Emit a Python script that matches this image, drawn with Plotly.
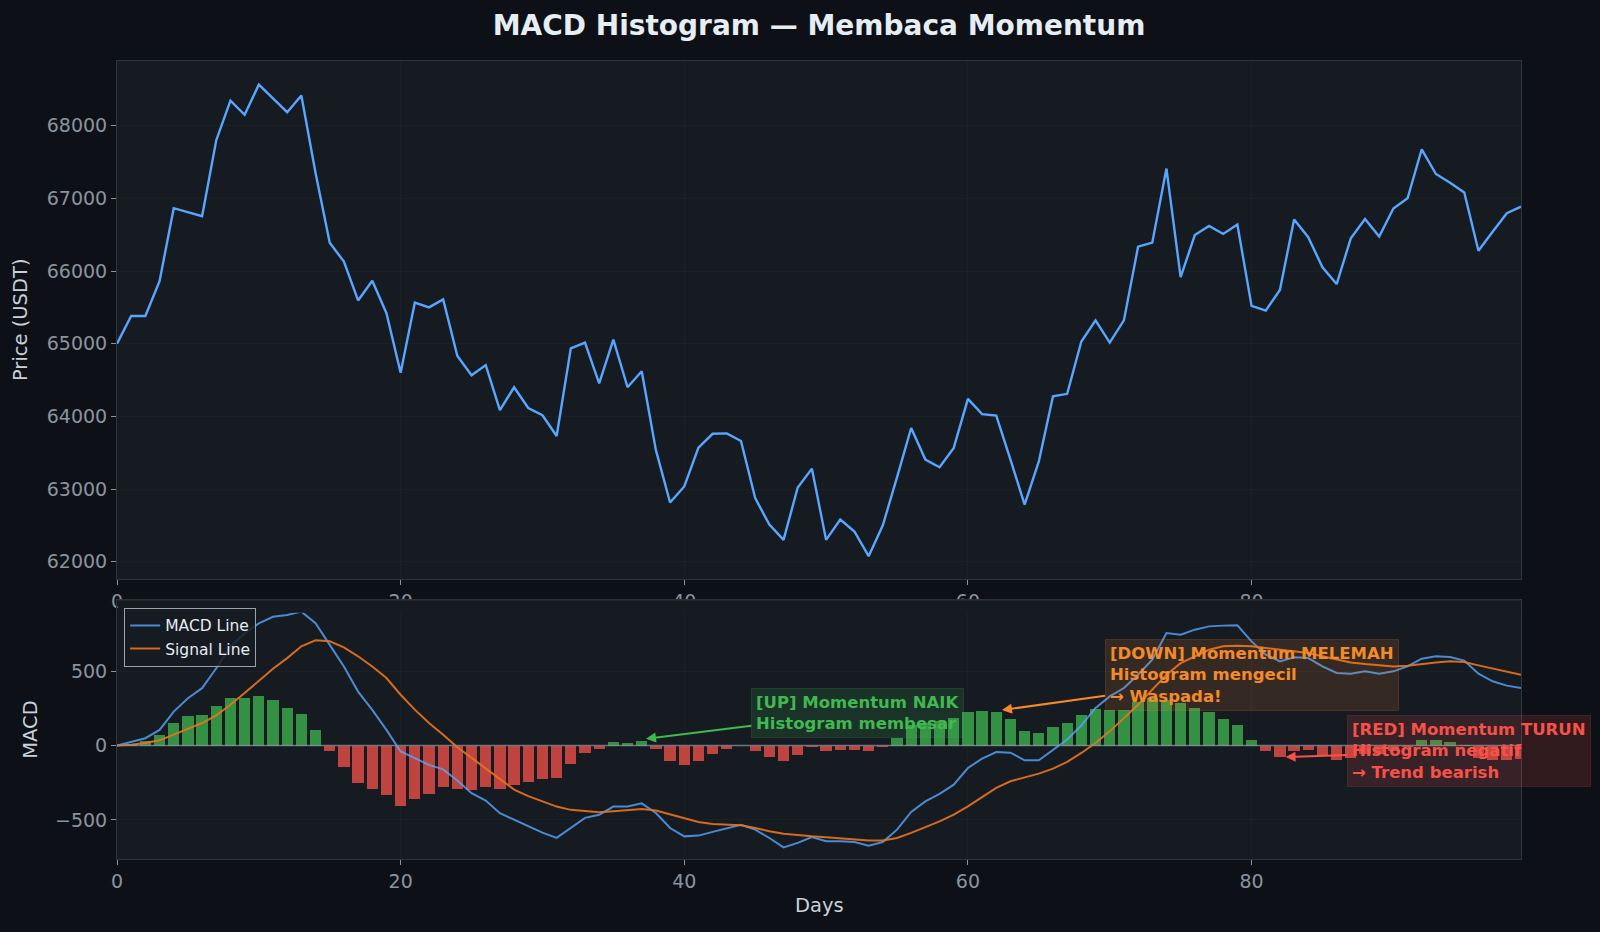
import plotly.graph_objects as go

# ---------------- data ----------------
days = list(range(100))

price = [65000, 65380, 65380, 65860, 66865, 66810, 66755, 67800, 68345, 68150,
         68565, 68375, 68185, 68415, 67350, 66390, 66130, 65595, 65865, 65420,
         64600, 65565, 65500, 65610, 64830, 64565, 64705, 64085, 64400, 64115,
         64015, 63730, 64935, 65015, 64455, 65055, 64400, 64620, 63535, 62815,
         63035, 63570, 63760, 63765, 63660, 62875, 62510, 62300, 63020, 63280,
         62300, 62580, 62415, 62075, 62500, 63160, 63840, 63405, 63300, 63565,
         64240, 64030, 64010, 63405, 62785, 63380, 64275, 64310, 65030, 65320,
         65015, 65320, 66335, 66390, 67410, 65915, 66495, 66620, 66510, 66640,
         65520, 65455, 65740, 66710, 66465, 66050, 65820, 66450, 66715, 66475,
         66860, 67000, 67675, 67335, 67215, 67080, 66280, 66540, 66795, 66885]

macd = [0, 27, 49, 105, 228, 318, 385, 519, 664, 754,
        820, 864, 876, 899, 821, 676, 531, 362, 239, 105,
        -40, -85, -130, -160, -235, -320, -370, -455, -498, -543,
        -585, -620, -553, -486, -465, -410, -410, -388, -453, -554,
        -610, -605, -580, -554, -532, -565, -621, -684, -654, -614,
        -643, -643, -648, -672, -648, -565, -446, -375, -325, -263,
        -151, -88, -44, -48, -99, -99, -27, 40, 135, 252,
        330, 386, 475, 576, 755, 744, 778, 800, 805, 807,
        699, 610, 565, 592, 587, 531, 487, 482, 498, 482,
        498, 531, 583, 599, 594, 570, 482, 431, 402, 386]

signal = [0, 5, 17, 35, 73, 111, 151, 203, 274, 352,
          435, 516, 587, 666, 706, 700, 659, 599, 531, 453,
          341, 241, 151, 73, -12, -84, -155, -229, -296, -340,
          -375, -410, -432, -442, -448, -442, -435, -426, -437, -464,
          -491, -514, -527, -532, -536, -554, -576, -592, -603, -610,
          -616, -623, -632, -637, -637, -621, -587, -549, -509, -464,
          -408, -346, -285, -240, -213, -189, -155, -110, -50, 17,
          95, 185, 274, 375, 475, 553, 599, 643, 666, 670,
          666, 655, 643, 632, 621, 599, 576, 558, 547, 538,
          531, 536, 549, 558, 565, 560, 538, 516, 493, 475]

hist = [0, 12, 31, 73, 153, 196, 207, 263, 323, 323,
        335, 306, 254, 214, 104, -39, -146, -251, -292, -332,
        -403, -361, -327, -280, -289, -296, -280, -289, -262, -244,
        -227, -216, -124, -50, -25, 26, 20, 33, -25, -100,
        -129, -100, -59, -25, -5, -39, -77, -106, -66, -10,
        -39, -30, -30, -39, -8, 49, 140, 155, 165, 185,
        229, 234, 229, 178, 96, 84, 124, 153, 207, 245,
        241, 241, 290, 318, 308, 287, 252, 223, 179, 141,
        40, -39, -77, -39, -32, -66, -94, -83, -55, -55,
        -35, -8, 37, 37, 24, 5, -80, -95, -99, -90]

x_ticks = [0, 20, 40, 60, 80]
price_ticks = [62000, 63000, 64000, 65000, 66000, 67000, 68000]
macd_ticks = [-500, 0, 500]

title_text = "MACD Histogram — Membaca Momentum"
ann_up = "[UP] Momentum NAIK<br>Histogram membesar"
ann_down = "[DOWN] Momentum MELEMAH<br>Histogram mengecil<br>→ Waspada!"
ann_red = "[RED] Momentum TURUN<br>Histogram negatif<br>→ Trend bearish"

# ---------------- styling / layout geometry ----------------
W, H = 1600, 932
L_PX, R_PX, T_PX, B_PX = 117.3, 1521.5, 61.0, 859.2
TOP_BOT_PX = 579.6
BOT_TOP_PX = 600.0

def pxx(px):
    return (px - L_PX) / (R_PX - L_PX)

def pxy(py):
    return (B_PX - py) / (B_PX - T_PX)

FIG_BG = "#0d1117"
AX_BG = "#161b22"
SPINE = "#30363d"
TICK = "#8b949e"
LABEL = "#c9d1d9"
GRID = "rgba(48,54,61,0.2)"
FONT = "DejaVu Sans"

GREEN = "#3fb950"
ORANGE = "#f58a2a"
RED = "#f85149"

bar_colors = ["rgba(63,185,80,0.75)" if v >= 0 else "rgba(248,81,73,0.75)" for v in hist]

fig = go.Figure()

fig.add_trace(go.Scatter(x=days, y=price, mode="lines",
                         line=dict(color="#58a6ff", width=2.4),
                         showlegend=False, xaxis="x", yaxis="y",
                         hoverinfo="skip"))

fig.add_trace(go.Bar(x=days, y=hist, width=0.8,
                     marker=dict(color=bar_colors, line=dict(width=0)),
                     showlegend=False, xaxis="x2", yaxis="y2"))

fig.add_trace(go.Scatter(x=days, y=macd, mode="lines", name="MACD Line",
                         line=dict(color="rgba(88,166,255,0.8)", width=2),
                         xaxis="x2", yaxis="y2"))

fig.add_trace(go.Scatter(x=days, y=signal, mode="lines", name="Signal Line",
                         line=dict(color="rgba(235,115,30,0.9)", width=2),
                         xaxis="x2", yaxis="y2"))

axis_common = dict(
    showline=True, mirror=True, linecolor=SPINE, linewidth=1,
    ticks="outside", ticklen=5, tickwidth=1, tickcolor=TICK,
    tickfont=dict(family=FONT, size=19, color=TICK),
    showgrid=True, gridcolor=GRID, gridwidth=1, zeroline=False,
)

fig.update_layout(
    width=W, height=H, autosize=False,
    paper_bgcolor=FIG_BG, plot_bgcolor=AX_BG,
    margin=dict(l=L_PX, r=W - R_PX, t=T_PX, b=H - B_PX, pad=0),
    font=dict(family=FONT, color=LABEL),
    bargap=0,
    title=dict(text="<b>" + title_text + "</b>", x=0.5, xref="paper",
               xanchor="center", y=1 - 25 / H, yref="container", yanchor="middle",
               font=dict(family=FONT, size=28, color="#e6edf3")),
    xaxis=dict(domain=[0, 1], anchor="y", range=[0, 99],
               tickvals=x_ticks, **axis_common),
    yaxis=dict(domain=[pxy(TOP_BOT_PX), 1], anchor="x", range=[61755, 68890],
               tickvals=price_ticks, tickformat="d", **axis_common),
    xaxis2=dict(domain=[0, 1], anchor="y2", range=[0, 99],
                tickvals=x_ticks, **axis_common),
    yaxis2=dict(domain=[0, pxy(BOT_TOP_PX)], anchor="x2", range=[-762, 978],
                tickvals=macd_ticks, **axis_common),
    legend=dict(x=pxx(124.5), y=pxy(608), xanchor="left", yanchor="top",
                bgcolor="rgba(22,27,34,0.85)", bordercolor="#9aa2ab", borderwidth=1,
                font=dict(family=FONT, size=15.5, color="#e6edf3"),
                itemwidth=30, tracegroupgap=0),
    showlegend=True,
)

shapes = [
    # lower plot covers the lower half of the upper axis' tick labels
    dict(type="rect", xref="paper", yref="paper",
         x0=pxx(L_PX + 0.6), x1=pxx(R_PX - 0.6), y0=pxy(613), y1=pxy(BOT_TOP_PX),
         fillcolor=AX_BG, line=dict(width=0), layer="above"),
    dict(type="line", xref="paper", yref="paper",
         x0=0, x1=1, y0=pxy(BOT_TOP_PX), y1=pxy(BOT_TOP_PX),
         line=dict(color=SPINE, width=1), layer="above"),
    # zero line of the MACD panel
    dict(type="line", xref="x2 domain", yref="y2", x0=0, x1=1, y0=0, y1=0,
         line=dict(color="rgba(139,148,158,0.75)", width=1.3), layer="above"),
]
fig.update_layout(shapes=shapes)

def note(text, color, head_x, head_y, box_x, box_y, alpha):
    r, g, b = int(color[1:3], 16), int(color[3:5], 16), int(color[5:7], 16)
    return dict(
        text="<b>" + text + "</b>", align="left",
        x=head_x, y=head_y, xref="x2", yref="y2",
        ax=box_x, ay=box_y, axref="x2", ayref="y2",
        showarrow=True, arrowhead=2, arrowsize=1, arrowwidth=2, arrowcolor=color,
        font=dict(family=FONT, size=16.5, color=color),
        bgcolor=f"rgba({r},{g},{b},{alpha})",
        bordercolor=f"rgba({r},{g},{b},0.18)", borderwidth=1, borderpad=4,
        xanchor="center", yanchor="middle",
    )

annotations = [
    note(ann_up, GREEN, 37.3, 45, 52.2, 221, 0.15),
    note(ann_down, ORANGE, 62.4, 238, 80.0, 471, 0.14),
    note(ann_red, RED, 82.4, -77, 95.3, -36, 0.15),
    dict(text="Price (USDT)", textangle=-90, xref="paper", yref="paper",
         x=pxx(21.4), y=pxy(320), xanchor="center", yanchor="middle",
         showarrow=False, font=dict(family=FONT, size=19.5, color=LABEL)),
    dict(text="MACD", textangle=-90, xref="paper", yref="paper",
         x=pxx(30.6), y=pxy(729.6), xanchor="center", yanchor="middle",
         showarrow=False, font=dict(family=FONT, size=19.5, color=LABEL)),
    dict(text="Days", xref="paper", yref="paper",
         x=0.5, y=pxy(906), xanchor="center", yanchor="middle",
         showarrow=False, font=dict(family=FONT, size=19.5, color=LABEL)),
]
fig.update_layout(annotations=annotations)

fig.write_html("out.html")
